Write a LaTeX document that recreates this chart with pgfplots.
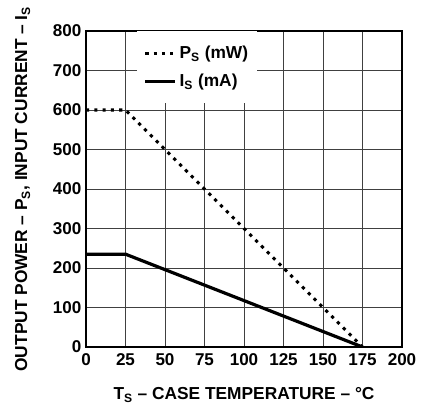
\documentclass[border=0pt]{standalone}
\usepackage{pgfplots}
\pgfplotsset{compat=1.18}
\usepackage{fontspec}
\setmainfont{Liberation Sans}
\begin{document}
\begin{tikzpicture}
\begin{axis}[
    scale only axis,
    width=237pt, height=237pt,
    xmin=0, xmax=200, ymin=0, ymax=800,
    xtick={0,25,...,200}, ytick={0,100,...,800},
    grid=major,
    grid style={black!75, line width=0.6pt},
    axis line style={line width=1.1pt},
    tick style={draw=none},
    /pgf/number format/assume math mode=true,
    tick label style={font=\fontsize{12.8}{14}\selectfont\bfseries},
    xticklabel style={yshift=-1.5pt},
    label style={font=\fontsize{13}{15}\selectfont\bfseries},
    xlabel={T\textsubscript{S} -- CASE TEMPERATURE -- °C},
    ylabel={OUTPUT POWER -- P\textsubscript{S}, INPUT CURRENT -- I\textsubscript{S}},
    xlabel style={yshift=-9.5pt},
    ylabel style={yshift=10pt},
    legend style={at={(0.161,1)}, anchor=north west, draw=none, fill=white,
        font=\fontsize{13}{15}\selectfont\bfseries,
        inner xsep=5pt, inner ysep=9pt, row sep=6pt},
    legend cell align=left,
    legend image code/.code={\draw[#1] (0pt,0pt) -- (22.5pt,0pt);},
]
\addplot[black, line width=2.3pt, dash pattern=on 2.4pt off 3.8pt] coordinates {
    (0,600) (25,600) (175,0)
};
\addplot[black, line width=2.4pt] coordinates {
    (0,235) (25,235) (175,0)
};
\legend{P\textsubscript{S} (mW), I\textsubscript{S} (mA)}
\end{axis}
\pgfresetboundingbox
\path ([shift={(-64.5pt,-44.5pt)}]current axis.south west)
    rectangle ([shift={(19.5pt,23.25pt)}]current axis.north east);
\end{tikzpicture}
\end{document}
